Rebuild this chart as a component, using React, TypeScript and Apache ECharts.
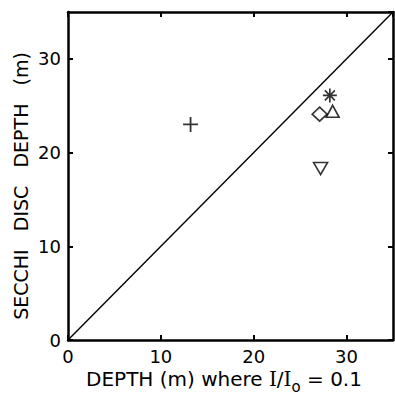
import React, { useEffect, useRef } from 'react';
import * as echarts from 'echarts';

// axis settings
const axisMin = 0;
const axisMax = 35;
const axisStep = 10;

// data (x: depth where I/Io = 0.1, y: Secchi disc depth), metres
const plusPoints = [[13.2, 23.0]];
const asteriskPoints = [[28.2, 26.1]];
const diamondPoints = [[27.1, 24.1]];
const triangleUpPoints = [[28.5, 24.4]];
const triangleDownPoints = [[27.2, 18.3]];
const oneToOneLine = [[0, 0], [35, 35]];

const xTitle = 'DEPTH (m) where {ser|I}/{ser|I}{sub|o} = 0.1';
const yTitle = 'SECCHI   DISC   DEPTH   (m)';

const FONT = 'DejaVu Sans';

function axisCommon(showLabel: boolean, position: string) {
  return {
    type: 'value',
    min: axisMin,
    max: axisMax,
    interval: axisStep,
    position,
    axisLine: { show: true, onZero: false, lineStyle: { color: '#000', width: 2.5 } },
    axisTick: { show: true, inside: true, length: 5, lineStyle: { color: '#000', width: 2 } },
    axisLabel: {
      show: showLabel,
      color: '#000',
      fontFamily: FONT,
      fontSize: 18,
      margin: 7,
      showMaxLabel: false,
    },
    splitLine: { show: false },
  };
}

const hollow = { color: 'transparent', borderColor: '#000', borderWidth: 1.6 };

export default function App() {
  const ref = useRef<HTMLDivElement>(null);
  useEffect(() => {
    if (!ref.current) return;
    const chart = echarts.init(ref.current, undefined, { renderer: 'svg' });
    chart.setOption({
      animation: false,
      backgroundColor: '#fff',
      grid: { left: 68, top: 12, width: 325, height: 328, containLabel: false },
      xAxis: [axisCommon(true, 'bottom'), axisCommon(false, 'top')],
      yAxis: [axisCommon(true, 'left'), axisCommon(false, 'right')],
      graphic: [
        {
          type: 'text',
          x: 224,
          y: 379,
          style: {
            text: xTitle,
            fontFamily: FONT,
            fontSize: 20,
            lineHeight: 30,
            fill: '#000',
            align: 'center',
            verticalAlign: 'middle',
            rich: {
              ser: { fontFamily: 'DejaVu Serif', fontSize: 20, lineHeight: 30 },
              sub: { fontFamily: FONT, fontSize: 15, lineHeight: 12, verticalAlign: 'bottom' },
            },
          },
        },
        {
          type: 'text',
          x: 21,
          y: 186,
          rotation: Math.PI / 2,
          style: {
            text: yTitle,
            fontFamily: FONT,
            fontSize: 19,
            fill: '#000',
            align: 'center',
            verticalAlign: 'middle',
          },
        },
      ],
      series: [
        {
          type: 'line',
          data: oneToOneLine,
          showSymbol: false,
          symbol: 'none',
          lineStyle: { color: '#000', width: 1.4 },
          silent: true,
        },
        {
          type: 'scatter',
          data: plusPoints,
          symbol: 'path://M7,0 L7,14 M0,7 L14,7',
          symbolSize: 15,
          itemStyle: { color: 'transparent', borderColor: '#000', borderWidth: 1.8 },
        },
        {
          type: 'scatter',
          data: asteriskPoints,
          symbol: 'path://M7,0 L7,14 M0,7 L14,7 M2,2 L12,12 M12,2 L2,12',
          symbolSize: 14,
          itemStyle: { color: 'transparent', borderColor: '#000', borderWidth: 1.7 },
        },
        {
          type: 'scatter',
          data: diamondPoints,
          symbol: 'diamond',
          symbolSize: [15, 14],
          itemStyle: hollow,
        },
        {
          type: 'scatter',
          data: triangleUpPoints,
          symbol: 'triangle',
          symbolSize: [13, 12],
          itemStyle: hollow,
        },
        {
          type: 'scatter',
          data: triangleDownPoints,
          symbol: 'triangle',
          symbolRotate: 180,
          symbolSize: [14, 12],
          itemStyle: hollow,
        },
      ],
    });
    return () => chart.dispose();
  }, []);
  return (
    <div
      ref={ref}
      style={{ position: 'fixed', left: 0, top: 0, width: 395, height: 395 }}
    />
  );
}
